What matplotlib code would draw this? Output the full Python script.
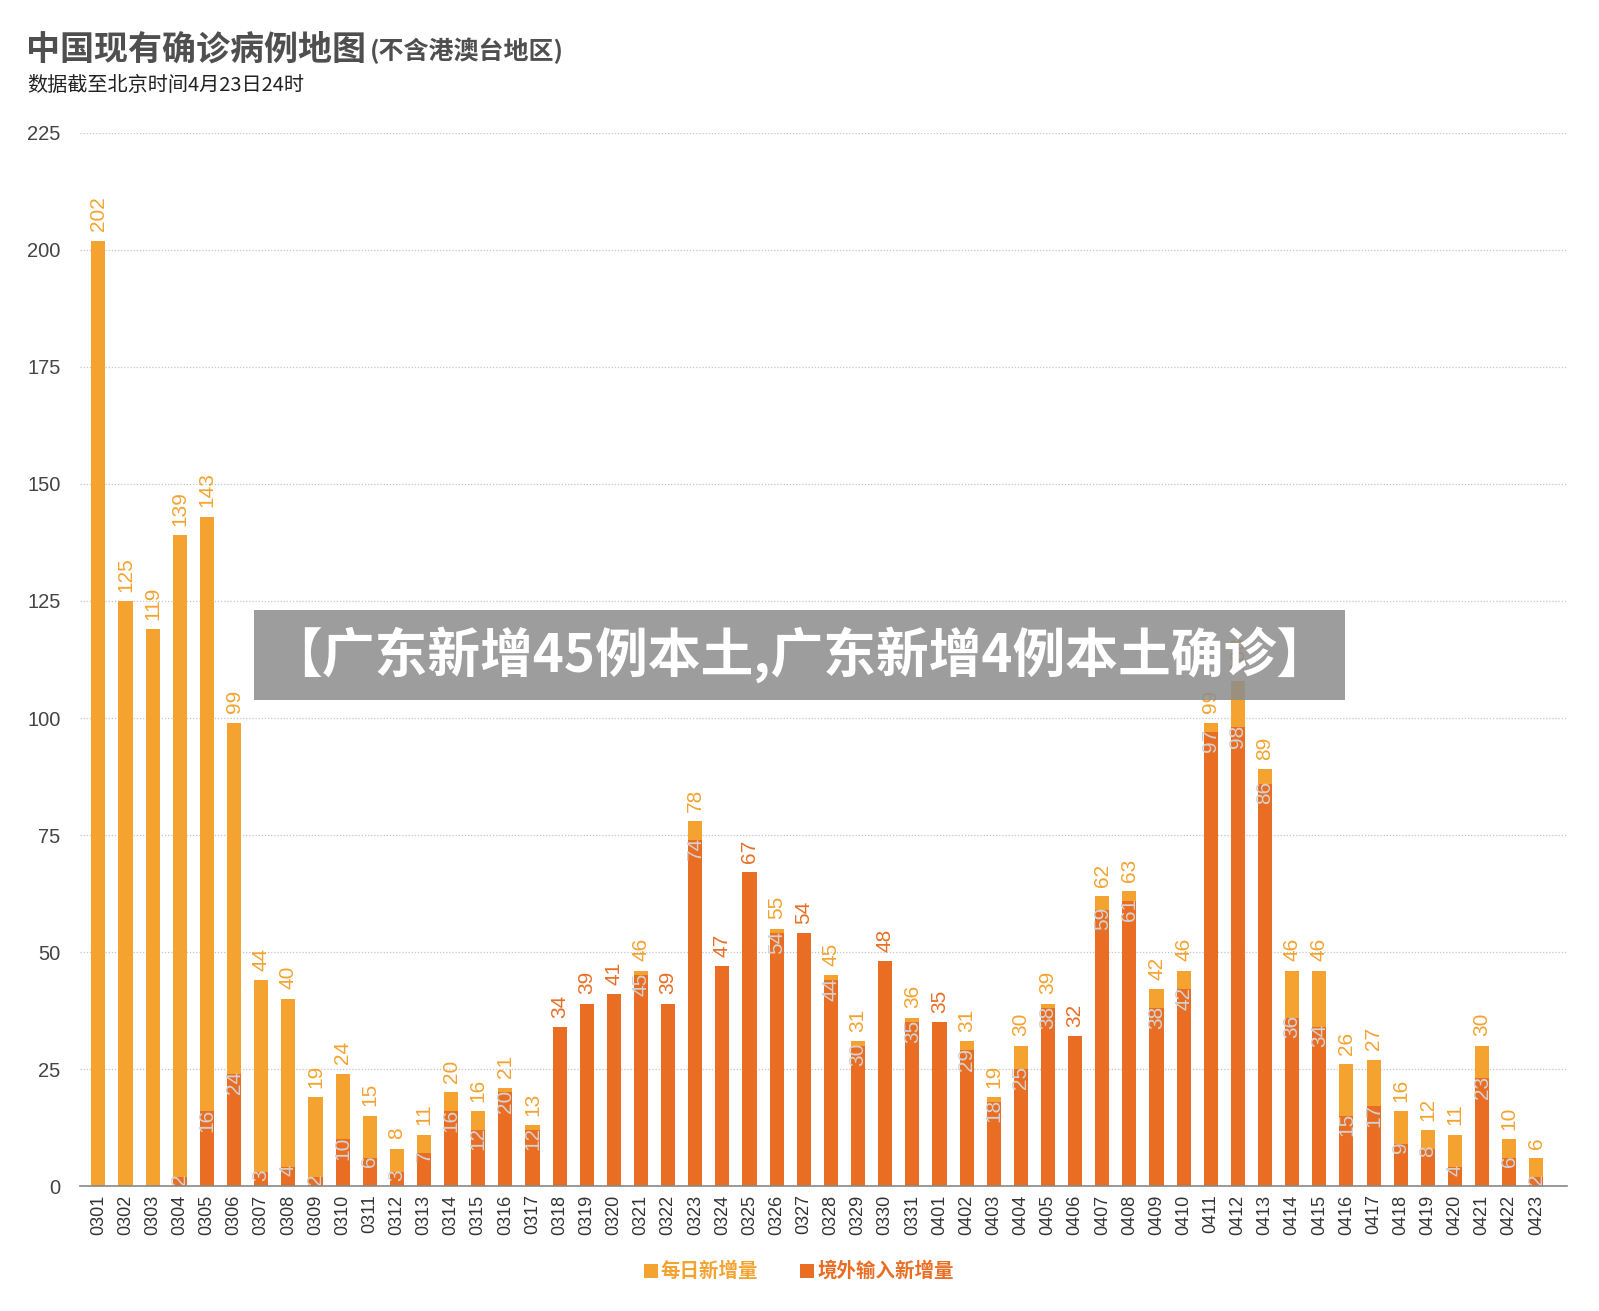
import numpy as np
import matplotlib
matplotlib.use("Agg")
import matplotlib.pyplot as plt
from matplotlib.patches import Rectangle

plt.rcParams['font.family'] = ['Liberation Sans', 'Noto Sans CJK SC', 'DejaVu Sans']

dates = ['0301', '0302', '0303', '0304', '0305', '0306', '0307', '0308', '0309', '0310',
         '0311', '0312', '0313', '0314', '0315', '0316', '0317', '0318', '0319', '0320',
         '0321', '0322', '0323', '0324', '0325', '0326', '0327', '0328', '0329', '0330',
         '0331', '0401', '0402', '0403', '0404', '0405', '0406', '0407', '0408', '0409',
         '0410', '0411', '0412', '0413', '0414', '0415', '0416', '0417', '0418', '0419',
         '0420', '0421', '0422', '0423']
# daily new total
total = [202, 125, 119, 139, 143, 99, 44, 40, 19, 24,
         15, 8, 11, 20, 16, 21, 13, 34, 39, 41,
         46, 39, 78, 47, 67, 55, 54, 45, 31, 48,
         36, 35, 31, 19, 30, 39, 32, 62, 63, 42,
         46, 99, 108, 89, 46, 46, 26, 27, 16, 12,
         11, 30, 10, 6]
# imported new cases
imported = [0, 0, 0, 2, 16, 24, 3, 4, 2, 10,
            6, 3, 7, 16, 12, 20, 12, 34, 39, 41,
            45, 39, 74, 47, 67, 54, 54, 44, 30, 48,
            35, 35, 29, 18, 25, 38, 32, 59, 61, 38,
            42, 97, 98, 86, 36, 34, 15, 17, 9, 8,
            4, 23, 6, 2]

c_total = '#F4A330'
c_imp = '#E96E24'
c_implabel = '#D3D3D3'

fig = plt.figure(figsize=(15.99, 13.11), dpi=100)
ax = fig.add_axes([0.050, 0.0953, 0.930, 0.8033])

x = np.arange(len(dates))
w = 0.52
ax.bar(x, total, width=w, color=c_total, zorder=2)
ax.bar(x, imported, width=w, color=c_imp, zorder=3)

for i in range(len(dates)):
    t, m = total[i], imported[i]
    col = c_imp if t == m else c_total
    ax.text(x[i], t + 2.0, str(t), rotation=90, ha='center', va='bottom',
            fontsize=15, color=col, zorder=4)
    if m > 0 and m != t:
        ax.text(x[i], m + 0.6, str(m), rotation=90, ha='center', va='top',
                fontsize=15, color=c_implabel, zorder=4)

ax.set_xlim(-0.68, len(dates) - 1 + 1.13)
ax.set_ylim(0, 225)
ax.set_yticks(np.arange(0, 226, 25))
ax.set_xticks(x)
ax.set_xticklabels(dates, rotation=90, fontsize=13, color='#333333')
ax.tick_params(axis='y', labelsize=14.5, labelcolor='#444444', length=0, pad=14)
ax.tick_params(axis='x', length=0, pad=6)
ax.grid(axis='y', linestyle=(0, (1, 1.5)), color='#C4C4C4', linewidth=0.9, zorder=0)
for s in ['top', 'right', 'left']:
    ax.spines[s].set_visible(False)
ax.spines['bottom'].set_color('#888888')
ax.spines['bottom'].set_linewidth(1.2)
ax.spines['bottom'].set_zorder(5)

# title
fig.text(0.016, 0.9625, '中国现有确诊病例地图', fontsize=24.5, fontweight='bold',
         color='#4F4F4F', family=['Noto Sans CJK SC'], va='center')
fig.text(0.2315, 0.9615, '(不含港澳台地区)', fontsize=18, fontweight='bold',
         color='#4F4F4F', family=['Noto Sans CJK SC'], va='center')
fig.text(0.017, 0.935, '数据截至北京时间4月23日24时', fontsize=14.5,
         color='#222222', family=['Noto Sans CJK SC', 'DejaVu Sans'], va='center')

# banner overlay
fig.patches.append(Rectangle((0.159, 0.466), 0.682, 0.069, transform=fig.transFigure,
                             facecolor='#8C8C8C', alpha=0.85, edgecolor='none', zorder=10))
fig.text(0.5, 0.5005, '【广东新增45例本土,广东新增4例本土确诊】', fontsize=38,
         fontweight='heavy', color='white', ha='center', va='center',
         family=['Noto Sans CJK SC'], zorder=11)

# legend
fig.patches.append(Rectangle((0.403, 0.025), 0.0085, 0.0105, transform=fig.transFigure,
                             facecolor=c_total, edgecolor='none'))
fig.text(0.413, 0.0305, '每日新增量', fontsize=14, fontweight='bold', color=c_total,
         family=['Noto Sans CJK SC'], va='center')
fig.patches.append(Rectangle((0.5006, 0.025), 0.0085, 0.0105, transform=fig.transFigure,
                             facecolor=c_imp, edgecolor='none'))
fig.text(0.511, 0.0305, '境外输入新增量', fontsize=14, fontweight='bold', color=c_imp,
         family=['Noto Sans CJK SC'], va='center')

fig.savefig('out.png', dpi=100)
